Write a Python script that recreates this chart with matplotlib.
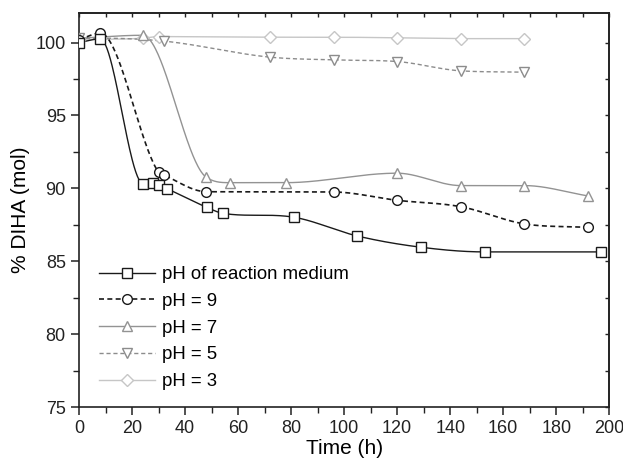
import numpy as np
import matplotlib
matplotlib.use("Agg")
import matplotlib.pyplot as plt
from matplotlib.ticker import MultipleLocator

plt.rcParams['font.family'] = ['Liberation Sans', 'DejaVu Sans']

# data (time in h, % DIHA in mol)
t_medium = [0, 8, 24.3, 28, 30.2, 33.2, 48.2, 54.2, 81, 105, 129, 153, 197]
y_medium = [100.0, 100.25, 90.3, 90.35, 90.23, 89.98, 88.7, 88.29, 88.02, 86.73, 85.96, 85.64, 85.64]

t_ph9 = [0, 8, 30, 32, 48, 96, 120, 144, 168, 192]
y_ph9 = [100.2, 100.65, 91.1, 90.92, 89.77, 89.75, 89.18, 88.74, 87.56, 87.33]

t_ph7 = [0, 24, 48, 57, 78, 120, 144, 168, 192]
y_ph7 = [100.3, 100.5, 90.76, 90.39, 90.39, 91.04, 90.19, 90.19, 89.48]

t_ph5 = [0, 8, 32, 72, 96, 120, 144, 168]
y_ph5 = [100.3, 100.3, 100.1, 99.0, 98.81, 98.7, 98.06, 97.97]

t_ph3 = [0, 24, 30, 72, 96, 120, 144, 168]
y_ph3 = [100.2, 100.3, 100.41, 100.37, 100.37, 100.32, 100.27, 100.27]

labels = ['pH of reaction medium', 'pH = 9', 'pH = 7', 'pH = 5', 'pH = 3']


# smooth line through the points (monotone cubic, Fritsch-Carlson slopes)
def smooth(x, y, n=600):
    x = np.asarray(x, float)
    y = np.asarray(y, float)
    h = np.diff(x)
    d = np.diff(y) / h
    m = np.zeros_like(y)
    for k in range(1, len(x) - 1):
        if d[k - 1] * d[k] > 0:
            s = (d[k - 1] + d[k]) / 2
            lim = 3 * min(abs(d[k - 1]), abs(d[k]))
            m[k] = np.sign(s) * min(abs(s), lim)
    m[0] = d[0]
    m[-1] = d[-1]
    xs = np.linspace(x[0], x[-1], n)
    i = np.clip(np.searchsorted(x, xs) - 1, 0, len(h) - 1)
    t = (xs - x[i]) / h[i]
    h00 = 2 * t**3 - 3 * t**2 + 1
    h10 = t**3 - 2 * t**2 + t
    h01 = -2 * t**3 + 3 * t**2
    h11 = t**3 - t**2
    ys = h00 * y[i] + h10 * h[i] * m[i] + h01 * y[i + 1] + h11 * h[i] * m[i + 1]
    return xs, ys


fig = plt.figure(figsize=(6.23, 4.68), dpi=100)
ax = fig.add_axes([0.1268, 0.1303, 0.978 - 0.1268, 0.9729 - 0.1303])

series = [
    (t_ph3, y_ph3, '#c6c6c6', '-', 'D', 6.0, 1.0),
    (t_ph5, y_ph5, '#8c8c8c', (0, (3, 2)), 'v', 7.5, 1.0),
    (t_ph7, y_ph7, '#939393', '-', '^', 7.5, 1.0),
    (t_ph9, y_ph9, '#1a1a1a', (0, (3, 2)), 'o', 7.0, 1.2),
    (t_medium, y_medium, '#1a1a1a', '-', 's', 6.5, 1.0),
]
handles = []
for x, y, c, ls, mk, ms, lw in series:
    xs, ys = smooth(x, y)
    ax.plot(xs, ys, color=c, ls=ls, lw=lw, zorder=2)
    ax.plot(x, y, ls='none', marker=mk, ms=ms, mfc='white', mec=c, mew=1.0, zorder=3)
    h, = ax.plot([], [], color=c, ls=ls, lw=lw, marker=mk, ms=ms, mfc='white', mec=c, mew=1.0)
    handles.append(h)

handles = handles[::-1]
ax.legend(handles, labels, loc='upper left', bbox_to_anchor=(0.038, 0.357),
          frameon=False, fontsize=13.4, handlelength=3.0, handletextpad=0.36,
          labelspacing=0.52, borderpad=0, borderaxespad=0, numpoints=1)

ax.set_xlim(0, 200)
ax.set_ylim(75, 102.05)
ax.xaxis.set_major_locator(MultipleLocator(20))
ax.xaxis.set_minor_locator(MultipleLocator(10))
ax.yaxis.set_major_locator(MultipleLocator(5))
ax.yaxis.set_minor_locator(MultipleLocator(2.5))
ax.tick_params(which='major', direction='out', length=6, width=1.1, labelsize=13, colors='#222222')
ax.tick_params(which='minor', direction='out', length=4, width=1.0, colors='#222222')

# mirrored short ticks on top and right, pointing inside
top = ax.secondary_xaxis('top')
top.xaxis.set_major_locator(MultipleLocator(10))
top.tick_params(direction='in', length=3, width=1.0, labeltop=False, colors='#222222')
right = ax.secondary_yaxis('right')
right.yaxis.set_major_locator(MultipleLocator(2.5))
right.tick_params(direction='in', length=3, width=1.0, labelright=False, colors='#222222')

for sp in list(ax.spines.values()) + [top.spines['top'], right.spines['right']]:
    sp.set_linewidth(1.2)
    sp.set_color('#222222')

ax.set_xlabel('Time (h)', fontsize=15, labelpad=1)
ax.set_ylabel('% DIHA (mol)', fontsize=15, labelpad=4)

fig.savefig('out.png', dpi=100)
